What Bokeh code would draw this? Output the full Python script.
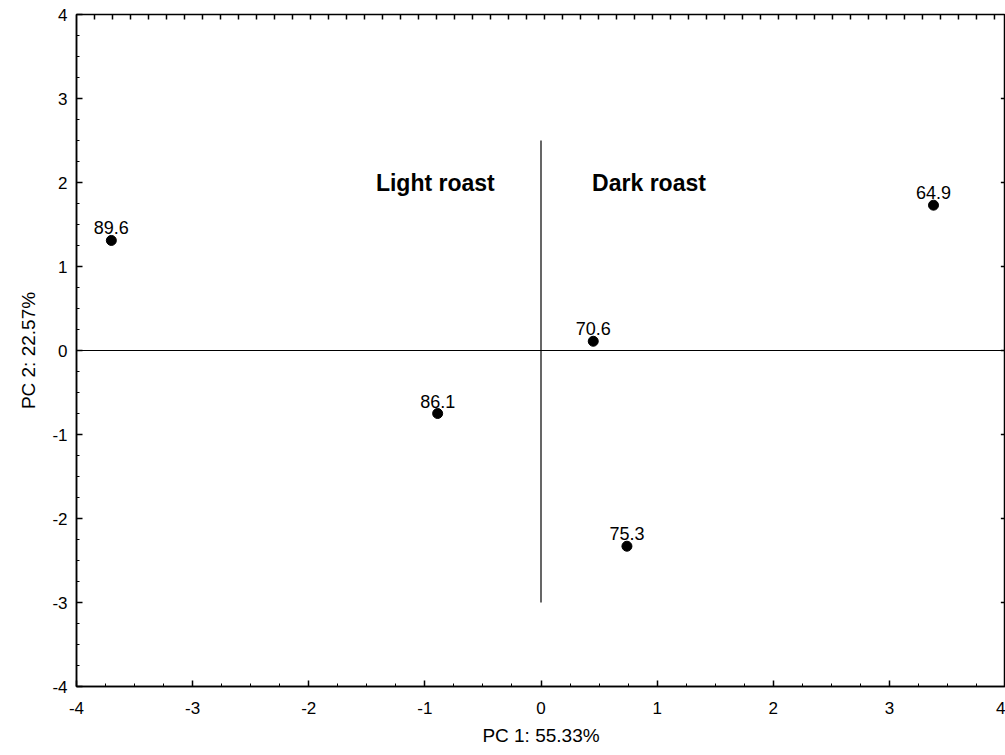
import numpy as np
from bokeh.plotting import figure
from bokeh.models import (ColumnDataSource, FixedTicker, Span)
from bokeh.core.properties import value
from bokeh.embed import file_html
from bokeh.resources import INLINE

# Data
labels = ["89.6", "86.1", "70.6", "75.3", "64.9"]
pc1 = [-3.70, -0.89, 0.45, 0.74, 3.38]
pc2 = [1.31, -0.75, 0.11, -2.33, 1.73]
x_ticks = [-4, -3, -2, -1, 0, 1, 2, 3, 4]
y_ticks = [-4, -3, -2, -1, 0, 1, 2, 3, 4]
group_names = ["Light roast", "Dark roast"]
group_x = [-0.91, 0.93]
group_y = [2.0, 2.0]
vline_y = [-3.0, 2.5]

FONT = "Liberation Sans"
XMIN, XMAX, YMIN, YMAX = -4, 4, -4, 4

p = figure(width=1005, height=755, x_range=(XMIN, XMAX), y_range=(YMIN, YMAX),
           output_backend="svg", toolbar_location=None,
           x_axis_label="PC 1: 55.33%", y_axis_label="PC 2: 22.57%",
           min_border_left=76, min_border_right=0, min_border_top=14,
           min_border_bottom=69)
p.grid.visible = False
p.outline_line_color = "black"
p.outline_line_width = 1.5
p.background_fill_color = "white"
p.border_fill_color = "white"

for ax, ticks in ((p.xaxis[0], x_ticks), (p.yaxis[0], y_ticks)):
    ax.ticker = FixedTicker(ticks=ticks,
                            minor_ticks=list(np.arange(-4, 4.001, 0.25)))
    ax.major_label_overrides = {t: str(t) for t in ticks}
    ax.major_tick_in = 6
    ax.major_tick_out = 0
    ax.minor_tick_in = 3
    ax.minor_tick_out = 0
    ax.axis_line_width = 1.5
    ax.major_tick_line_width = 1.5
    ax.major_label_text_font = FONT
    ax.major_label_text_font_size = "17px"
    ax.major_label_text_color = "black"
    ax.axis_label_text_font = FONT
    ax.axis_label_text_font_size = "19px"
    ax.axis_label_text_font_style = "normal"
    ax.axis_label_text_color = "black"

p.xaxis[0].major_label_standoff = 15
p.xaxis[0].axis_label_standoff = 8
p.yaxis[0].major_label_standoff = 9
p.yaxis[0].axis_label_standoff = 10

# decorative inward ticks along the top and right edges of the frame
top_ticks = np.arange(XMIN + 0.155, XMAX, 0.155)
p.segment(x0=top_ticks, y0=[YMAX] * len(top_ticks), x1=top_ticks,
          y1=[YMAX - 0.06] * len(top_ticks), line_color="black", line_width=1.5)
right_ticks = [t for t in y_ticks if YMIN < t < YMAX]
p.segment(x0=[XMAX] * len(right_ticks), y0=right_ticks,
          x1=[XMAX - 0.04] * len(right_ticks), y1=right_ticks,
          line_color="black", line_width=1.5)

# reference lines
p.add_layout(Span(location=0, dimension="width", line_color="black", line_width=1.2))
p.segment(x0=[0], y0=[vline_y[0]], x1=[0], y1=[vline_y[1]],
          line_color="black", line_width=1.2)

src = ColumnDataSource(dict(x=pc1, y=pc2, t=labels))
p.scatter("x", "y", source=src, size=10, color="black")
p.text("x", "y", text="t", source=src, text_align="center",
       text_baseline="bottom", y_offset=-6, text_font=value(FONT),
       text_font_size="18px", text_color="black")

gsrc = ColumnDataSource(dict(x=group_x, y=group_y, t=group_names))
p.text("x", "y", text="t", source=gsrc, text_align="center",
       text_baseline="middle", text_font=value(FONT),
       text_font_size="23px", text_font_style="bold", text_color="black")

open("out.html", "w").write(file_html(p, INLINE))
